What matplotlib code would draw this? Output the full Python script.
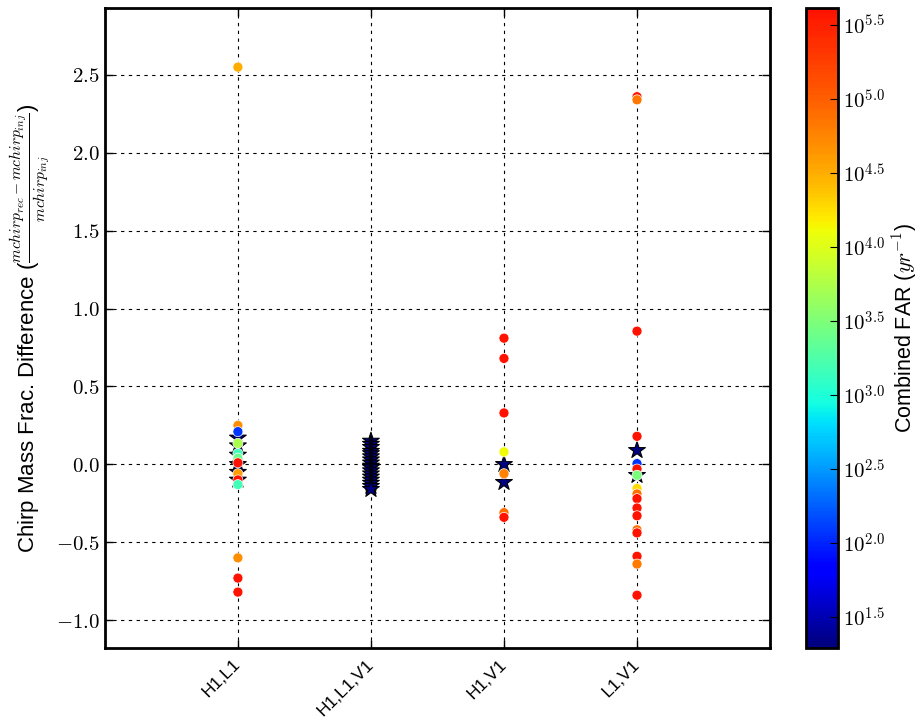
import numpy as np
import matplotlib
matplotlib.use('Agg')
import matplotlib.pyplot as plt
from matplotlib.colors import LogNorm, ListedColormap
from matplotlib.ticker import FuncFormatter

plt.rcParams['font.family'] = ['Liberation Sans', 'DejaVu Sans']
plt.rcParams['mathtext.fontset'] = 'cm'

# Coincidence types on the x axis
categories = ['H1,L1', 'H1,L1,V1', 'H1,V1', 'L1,V1']

# Found injections (circles): chirp mass frac. difference and combined FAR (yr^-1)
hl_y = [2.55, 0.25, 0.21, 0.135, 0.07, 0.04, 0.01, -0.06, -0.10, -0.13, -0.60, -0.73, -0.82]
hl_far = [3.1e4, 5.0e4, 1.2e2, 5.4e3, 1.5e3, 2.5e3, 3.8e5, 4.0e4, 3.8e5, 1.5e3, 5.0e4, 3.8e5, 3.8e5]
hv_y = [0.81, 0.68, 0.33, 0.08, -0.06, -0.31, -0.34]
hv_far = [3.8e5, 3.8e5, 3.8e5, 1.3e4, 6.0e4, 7.6e4, 3.8e5]
lv_y = [2.36, 2.34, 0.855, 0.18, 0.005, -0.03, -0.07, -0.155, -0.19, -0.22, -0.28,
        -0.33, -0.42, -0.44, -0.59, -0.64, -0.84]
lv_far = [3.8e5, 7.0e4, 3.8e5, 3.8e5, 1.2e2, 3.8e5, 3.0e3, 1.9e4, 7.6e4, 3.8e5, 3.8e5,
          3.8e5, 7.6e4, 3.8e5, 3.8e5, 6.5e4, 3.8e5]

# Loudest injections (stars), lowest FAR
hl_star_y = [0.17, 0.12, 0.06, 0.0, -0.05, -0.10]
hlv_star_y = [0.15, 0.13, 0.11, 0.085, 0.07, 0.05, 0.03, 0.01, -0.01, -0.02,
              -0.04, -0.06, -0.08, -0.10, -0.12, -0.14, -0.16]
hv_star_y = [0.0, -0.115]
lv_star_y = [0.09, -0.07]
star_far = 20.0

far_ticks = [1.5, 2.0, 2.5, 3.0, 3.5, 4.0, 4.5, 5.0, 5.5]
far_min, far_max = 19.5, 4.1e5

fig = plt.figure(figsize=(9.2, 7.21), dpi=100)
ax = fig.add_axes([0.114, 0.101, 0.723, 0.888])
cax = fig.add_axes([0.876, 0.101, 0.035, 0.888])

norm = LogNorm(vmin=far_min, vmax=far_max)
# jet from navy up to pure red, slightly squeezed at the top end
pos = np.interp(np.linspace(0, 1, 256), [0, 0.63, 0.74, 0.86, 1.0], [0, 0.62, 0.725, 0.81, 0.89])
cmap = ListedColormap(plt.get_cmap('jet')(pos))

star_sets = [(1, hl_star_y), (2, hlv_star_y), (3, hv_star_y), (4, lv_star_y)]
for xpos, ys in star_sets:
    ax.scatter([xpos] * len(ys), ys, c=[star_far] * len(ys), cmap=cmap, norm=norm,
               marker='*', s=160, edgecolors='black', linewidths=0.8, zorder=3)

circle_sets = [(1, hl_y, hl_far), (3, hv_y, hv_far), (4, lv_y, lv_far)]
for xpos, ys, fars in circle_sets:
    ax.scatter([xpos] * len(ys), ys, c=fars, cmap=cmap, norm=norm,
               marker='o', s=52, edgecolors='white', linewidths=0.5, zorder=4)

ax.set_xlim(0, 5)
ax.set_ylim(-1.18, 2.93)
ax.set_xticks([1, 2, 3, 4])
ax.set_xticklabels(categories, rotation=45, ha='right', va='center',
                   rotation_mode='anchor', fontsize=12.5)
ax.tick_params(axis='x', pad=10)
ax.set_yticks(np.arange(-1.0, 2.51, 0.5))
ax.yaxis.set_major_formatter(FuncFormatter(lambda v, p: '$%.1f$' % v))
ax.tick_params(axis='y', labelsize=15)
ax.tick_params(direction='in', top=True, right=True, length=6, width=1)
ax.grid(True, color='black', linestyle=(0, (3, 4)), linewidth=0.8)
for sp in ax.spines.values():
    sp.set_linewidth(2)
ax.set_ylabel(r'Chirp Mass Frac. Difference ($\frac{mchirp_{rec}-mchirp_{inj}}{mchirp_{inj}}$)',
              fontsize=16, labelpad=2)

sm = plt.cm.ScalarMappable(norm=norm, cmap=cmap)
cb = fig.colorbar(sm, cax=cax)
cb.set_ticks([10 ** t for t in far_ticks])
cb.set_ticklabels(['$10^{%.1f}$' % t for t in far_ticks])
cb.minorticks_off()
cax.tick_params(direction='in', length=6, labelsize=15)
cb.outline.set_linewidth(2)
cb.set_label(r'Combined FAR ($yr^{-1}$)', fontsize=15.5)
cax.yaxis.set_label_coords(2.62, 0.5)

fig.savefig('out.png', dpi=100)
